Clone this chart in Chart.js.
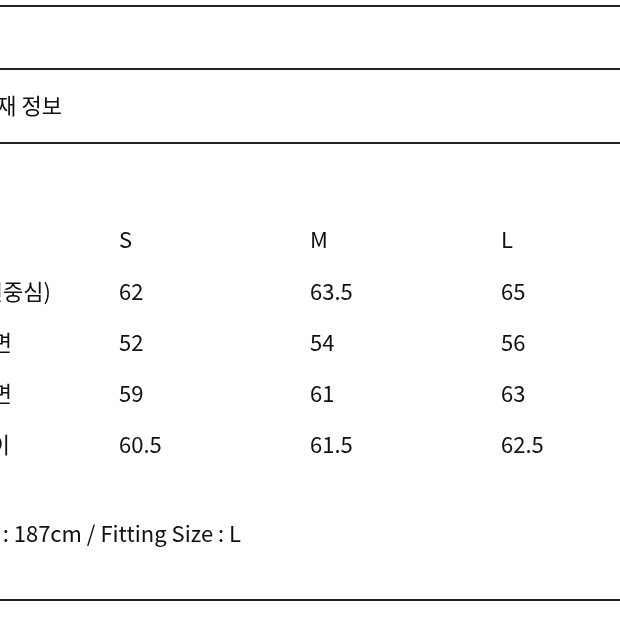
<!DOCTYPE html>
<html><head><meta charset="utf-8">
<script src="https://cdn.jsdelivr.net/npm/chart.js@4"></script>
<style>html,body{margin:0;padding:0;background:#fff}#w{width:620px;height:620px}</style>
</head><body><div id="w"><canvas id="c"></canvas></div>
<script>
const sizes = ["S", "M", "L"];
const rowLabels = ["총장(후면중심)", "가슴단면", "밑단단면", "소매길이"];
const valuesS = ["62", "52", "59", "60.5"];
const valuesM = ["63.5", "54", "61", "61.5"];
const valuesL = ["65", "56", "63", "62.5"];
const sectionTitle = "소재 정보";
const footnote = "Model : 187cm / Fitting Size : L";

const cols = [valuesS, valuesM, valuesL];
const datasets = cols.map((vals, ci) => ({
  label: sizes[ci],
  data: [{x: ci, y: 0, t: sizes[ci]}].concat(vals.map((v, ri) => ({x: ci, y: ri + 1, t: v}))),
  pointRadius: 0, pointHoverRadius: 0
}));
const FONT = '"Noto Sans CJK KR","Noto Sans",sans-serif';
const tablePlugin = {
  id: 'table',
  afterDraw(chart) {
    const ctx = chart.ctx, xs = chart.scales.x, ys = chart.scales.y, W = chart.width;
    ctx.save();
    ctx.fillStyle = '#111';
    ctx.font = '22px ' + FONT;
    ctx.textBaseline = 'middle';
    chart.data.datasets.forEach(ds => ds.data.forEach(p => {
      ctx.textAlign = 'left';
      ctx.fillText(p.t, xs.getPixelForValue(p.x), ys.getPixelForValue(p.y));
    }));
    ctx.textAlign = 'right';
    const ends = [51, 12, 12, 10];
    rowLabels.forEach((l, i) => ctx.fillText(l, ends[i], ys.getPixelForValue(i + 1)));
    ctx.fillText(sectionTitle, 62, 106);
    ctx.textAlign = 'left';
    const fw = ctx.measureText(footnote).width;
    ctx.fillText(footnote, 241 - fw, 534);
    ctx.strokeStyle = '#222'; ctx.lineWidth = 2;
    [6, 69, 143, 600].forEach(y => { ctx.beginPath(); ctx.moveTo(0, y); ctx.lineTo(W, y); ctx.stroke(); });
    ctx.restore();
  }
};
new Chart(document.getElementById('c'), {
  type: 'scatter',
  data: { datasets },
  options: {
    responsive: true, maintainAspectRatio: false, animation: false,
    layout: { padding: 0 },
    plugins: { legend: { display: false }, tooltip: { enabled: false } },
    scales: {
      x: { type: 'linear', display: false, min: -119/191, max: 2 + 119/191 },
      y: { type: 'linear', display: false, reverse: true, min: -240/51.25, max: 4 + 175/51.25 }
    }
  },
  plugins: [tablePlugin]
});
</script></body></html>
